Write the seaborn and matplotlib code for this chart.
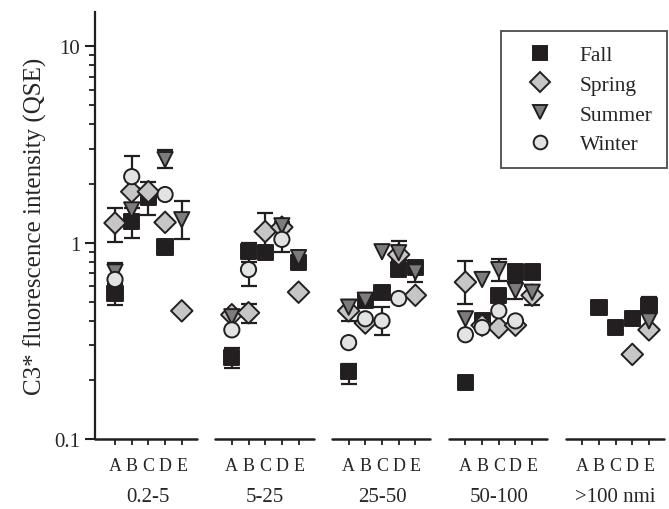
import numpy as np
import pandas as pd
import seaborn as sns
import matplotlib.pyplot as plt
from matplotlib.ticker import FixedLocator, NullFormatter, LogLocator

nan = np.nan

groups = ["0.2-5", "5-25", "25-50", "50-100", ">100 nmi"]
sites = ["A", "B", "C", "D", "E"]
seasons = ["Fall", "Spring", "Summer", "Winter"]

# values per season, group by group, sites A..E
fall = [0.55, 1.28, 1.70, 0.95, nan,
        0.26, 0.90, 0.89, nan, 0.79,
        0.22, 0.51, 0.56, 0.73, 0.75,
        0.195, 0.40, 0.54, 0.71, 0.71,
        nan, 0.47, 0.37, 0.41, 0.48]
spring = [1.26, 1.82, 1.82, 1.27, 0.45,
          0.43, 0.44, 1.14, 1.20, 0.56,
          0.45, 0.39, nan, 0.87, 0.54,
          0.63, 0.38, 0.37, 0.38, 0.54,
          nan, nan, nan, 0.27, 0.36]
summer = [0.71, 1.47, nan, 2.65, 1.31,
          0.42, nan, nan, 1.22, 0.84,
          0.47, 0.51, 0.90, 0.89, 0.71,
          0.41, 0.65, 0.73, 0.57, 0.56,
          nan, nan, nan, nan, 0.40]
winter = [0.65, 2.17, nan, 1.76, nan,
          0.36, 0.73, nan, 1.04, nan,
          0.31, 0.41, 0.40, 0.52, nan,
          0.34, 0.37, 0.45, 0.40, nan,
          nan, nan, nan, nan, nan]

# (season, group, site, low, high)
errors = [
    ("Fall", "0.2-5", "A", 0.48, 0.62),
    ("Summer", "0.2-5", "A", 0.66, 0.79),
    ("Spring", "0.2-5", "A", 1.01, 1.50),
    ("Winter", "0.2-5", "B", 1.90, 2.75),
    ("Fall", "0.2-5", "B", 1.06, 1.50),
    ("Fall", "0.2-5", "C", 1.39, 2.05),
    ("Summer", "0.2-5", "D", 2.40, 2.95),
    ("Summer", "0.2-5", "E", 1.05, 1.64),
    ("Fall", "5-25", "A", 0.23, 0.29),
    ("Fall", "5-25", "B", 0.80, 1.00),
    ("Winter", "5-25", "B", 0.60, 0.85),
    ("Spring", "5-25", "B", 0.39, 0.49),
    ("Spring", "5-25", "C", 0.95, 1.41),
    ("Winter", "5-25", "D", 0.90, 1.15),
    ("Summer", "5-25", "D", 1.15, 1.28),
    ("Summer", "25-50", "A", 0.40, 0.51),
    ("Fall", "25-50", "A", 0.19, 0.24),
    ("Winter", "25-50", "C", 0.34, 0.47),
    ("Summer", "25-50", "D", 0.82, 1.02),
    ("Summer", "25-50", "E", 0.63, 0.78),
    ("Spring", "50-100", "A", 0.49, 0.81),
    ("Summer", "50-100", "C", 0.64, 0.83),
    ("Summer", "50-100", "D", 0.52, 0.63),
    ("Spring", "50-100", "E", 0.48, 0.60),
    ("Fall", ">100 nmi", "E", 0.44, 0.53),
]

GAP = 7  # x units between group starts
XLEFT = -1.2

rows = []
for season, vals in zip(seasons, [fall, spring, summer, winter]):
    for k, v in enumerate(vals):
        gi, si = divmod(k, 5)
        rows.append(dict(season=season, group=groups[gi], site=sites[si],
                         x=gi * GAP + si, value=v))
df = pd.DataFrame(rows).dropna()

sns.set_style("ticks")
plt.rcParams["font.family"] = ["Liberation Serif", "DejaVu Serif"]

ink = "#231f20"
fig = plt.figure(figsize=(6.69, 5.10), dpi=100)
ax = fig.add_axes([0.142, 0.137, 0.858, 0.838])

palette = {"Fall": ink, "Spring": "#c6c6c6", "Summer": "#7c7c7c", "Winter": "#e2e3e4"}
markers = {"Fall": "s", "Spring": "D", "Summer": "v", "Winter": "o"}

# error bars behind markers
for season, grp, site, lo, hi in errors:
    x = groups.index(grp) * GAP + sites.index(site)
    mid = np.sqrt(lo * hi)
    ax.errorbar([x], [mid], yerr=[[mid - lo], [hi - mid]],
                fmt="none", ecolor=ink, elinewidth=1.6, capsize=6,
                capthick=1.6, zorder=1)

sns.scatterplot(data=df, x="x", y="value", hue="season", style="season",
                palette=palette, markers=markers, hue_order=seasons,
                style_order=seasons, s=120, edgecolor=ink,
                linewidth=1.4, ax=ax, zorder=3)

ax.set_yscale("log")
ax.set_ylim(0.1, 15)
ax.set_xlim(XLEFT, (len(groups) - 1) * GAP + 5.2)

ax.yaxis.set_major_locator(FixedLocator([0.1, 1, 10]))
ax.set_yticklabels(["0.1", "1", "10"])
ax.yaxis.set_minor_locator(LogLocator(base=10, subs=np.arange(2, 10)))
ax.yaxis.set_minor_formatter(NullFormatter())
ax.tick_params(axis="y", which="major", length=7.5, width=1.5, labelsize=15,
               direction="out", pad=3, color=ink)
ax.tick_params(axis="y", which="minor", length=4.5, width=1.3,
               direction="out", color=ink)

xt = [gi * GAP + si for gi in range(len(groups)) for si in range(len(sites))]
ax.set_xticks(xt)
ax.set_xticklabels(sites * len(groups))
ax.tick_params(axis="x", length=4, width=1.3, labelsize=13, pad=9,
               direction="out", color=ink)

for side in ["top", "right", "bottom"]:
    ax.spines[side].set_visible(False)
ax.spines["left"].set_linewidth(1.6)
ax.spines["left"].set_color(ink)

# separate baseline for each group
xtr = ax.get_xaxis_transform()
for gi, name in enumerate(groups):
    g0 = gi * GAP
    start = XLEFT if gi == 0 else g0 - 1
    ax.plot([start, g0 + 4.9], [0, 0], color=ink, lw=1.8,
            transform=xtr, clip_on=False, zorder=5)
    ax.annotate(name, xy=(g0 + 2, 0), xycoords=xtr, xytext=(0, -41),
                textcoords="offset points", ha="center", va="center",
                fontsize=15)

ax.set_xlabel("")
ax.set_ylabel("C3* fluorescence intensity (QSE)", fontsize=18, labelpad=5)

handles, labels = ax.get_legend_handles_labels()
leg = ax.legend(handles, labels, loc="upper right", bbox_to_anchor=(0.996, 0.955),
                fontsize=15.5, frameon=True, fancybox=False, markerscale=0.9,
                labelspacing=0.45, borderpad=0.65, handlelength=2.3,
                handletextpad=0.7, borderaxespad=0)
leg.get_frame().set_edgecolor(ink)
leg.get_frame().set_linewidth(1.3)

fig.savefig("out.png", dpi=100)
